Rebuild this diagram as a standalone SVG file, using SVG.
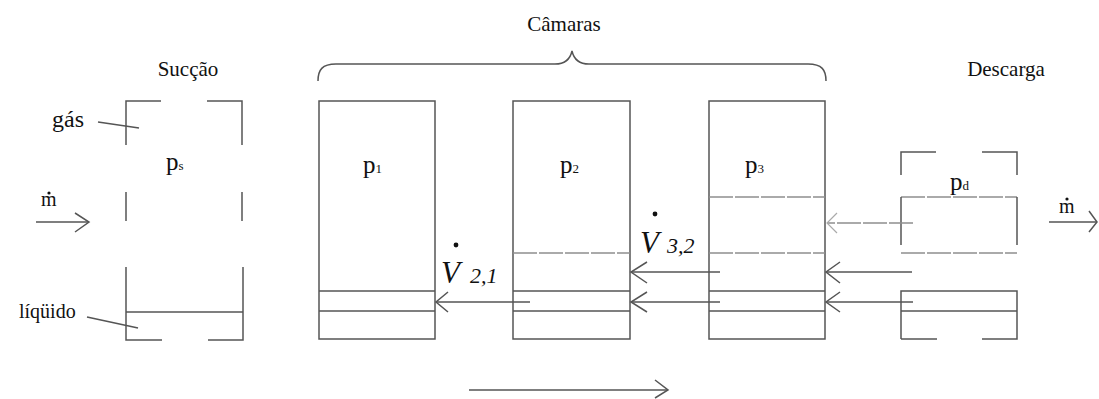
<svg xmlns="http://www.w3.org/2000/svg" width="1099" height="399" viewBox="0 0 1099 399">
<defs>
<style>
.ln{stroke:#555;stroke-width:1.5;fill:none}
.lt{stroke:#8f8f8f;stroke-width:1.3;fill:none;stroke-dasharray:24 2}
.ah{stroke:#555;stroke-width:1.5;fill:none}
.ahl{stroke:#aaa;stroke-width:1.2;fill:none}
.t{font-family:"Liberation Serif",serif;fill:#111}
.lab{font-size:20px}
.p{font-size:25px}
.sub{font-size:13px}
.vi{font-family:"Liberation Serif",serif;font-style:italic;fill:#111}
</style>
</defs>
<rect width="1099" height="399" fill="#fff"/>

<g id="title">
<text class="t" font-size="21" x="564" y="31" text-anchor="middle">Câmaras</text>
<path class="ln" d="M318,81 C318,70 322,64 336,64 L555,64 C565,64 570,60 572,51 C574,60 579,64 589,64 L808,64 C822,64 826,70 826,81"/>
</g>

<g id="suction">
<text class="t" font-size="21" x="188" y="76" text-anchor="middle">Sucção</text>
<path class="ln" d="M126,145 V101 H161 M207,101 H242 V145"/>
<path class="ln" d="M126,192 V221 M242,192 V221"/>
<path class="ln" d="M126,267 V340 H162 M208,340 H243 V267 M126,312 H243"/>
<text class="t p" x="166" y="170">p<tspan class="sub">s</tspan></text>
<text class="t" font-size="24" x="52" y="127">gás</text>
<path class="ln" d="M98,122 L139,128" stroke-width="1.2"/>
<text class="t lab" x="19" y="318">líqüido</text>
<path class="ln" d="M87,317 L138,328" stroke-width="1.2"/>
</g>

<g id="chamber1">
<rect class="ln" x="319" y="101" width="116" height="238"/>
<path class="ln" d="M319,291 H435 M319,311 H435"/>
<text class="t p" x="363" y="173">p<tspan class="sub">1</tspan></text>
</g>

<g id="chamber2">
<rect class="ln" x="513" y="101" width="117" height="238"/>
<path class="lt" d="M513,253 H630"/>
<path class="ln" d="M513,291 H630 M513,311 H630"/>
<text class="t p" x="560" y="173">p<tspan class="sub">2</tspan></text>
</g>

<g id="chamber3">
<rect class="ln" x="709" y="101" width="116" height="238"/>
<path class="lt" d="M709,197 H825 M709,253 H825"/>
<path class="ln" d="M709,291 H825 M709,311 H825"/>
<text class="t p" x="745" y="173">p<tspan class="sub">3</tspan></text>
</g>

<g id="discharge">
<text class="t" font-size="21" x="1006" y="76" text-anchor="middle">Descarga</text>
<path class="ln" d="M901,175 V152 H936 M982,152 H1017 V175"/>
<path class="lt" d="M901,197 H1017 M901,253 H1017"/>
<path class="ln" d="M901,197 V245 M1017,197 V245"/>
<path class="ln" d="M901,339 V291 H1017 V339 H982 M937,339 H901 M901,311 H1017"/>
<text class="t p" x="950" y="190">p<tspan class="sub">d</tspan></text>
</g>

<g id="connectors">
<path class="ln" d="M36,222 H89"/>
<path class="ah" d="M75,213 L89,222 L75,232"/>
<text class="t lab" x="41" y="206">m</text>
<circle cx="49" cy="193" r="1.6" fill="#111"/>

<path class="ln" d="M1049,222 H1097"/>
<path class="ah" d="M1089,211 L1097,222 L1089,232"/>
<text class="t lab" x="1059" y="213">m</text>
<circle cx="1067" cy="199" r="1.6" fill="#111"/>

<path class="ln" d="M530,302 H436"/>
<path class="ah" d="M448,292 L436,302 L448,312"/>
<circle cx="456" cy="245" r="2.4" fill="#111"/>
<text class="vi" x="441" y="283" font-size="31">V</text>
<text class="vi" x="470" y="283" font-size="22">2,1</text>

<path class="ln" d="M720,272 H631"/>
<path class="ah" d="M647,262 L631,272 L647,283"/>
<path class="ln" d="M720,302 H631"/>
<path class="ah" d="M647,292 L631,302 L647,312"/>
<circle cx="655" cy="214" r="2.4" fill="#111"/>
<text class="vi" x="640" y="253" font-size="31">V</text>
<text class="vi" x="667" y="253" font-size="22">3,2</text>

<path class="lt" d="M913,223 H827"/>
<path class="ahl" d="M837,213 L827,223 L837,233"/>
<path class="ln" d="M912,272 H826"/>
<path class="ah" d="M840,262 L826,272 L840,283"/>
<path class="ln" d="M913,302 H826"/>
<path class="ah" d="M840,292 L826,302 L840,312"/>

<path class="ln" d="M469,390 H668"/>
<path class="ah" d="M655,380 L668,390 L655,398"/>
</g>
</svg>
